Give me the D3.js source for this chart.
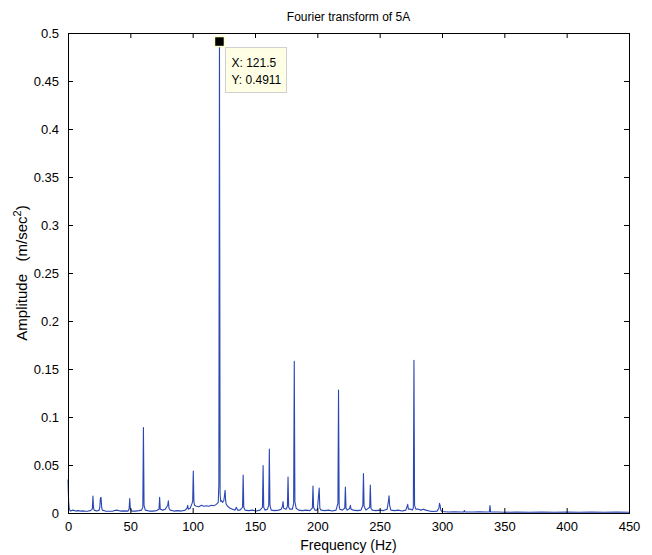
<!DOCTYPE html>
<html>
<head>
<meta charset="utf-8">
<script src="https://cdn.jsdelivr.net/npm/d3@7"></script>
<style>
  body { margin: 0; background: #fff; }
  text { font-family: "Liberation Sans", Arial, sans-serif; fill: #000; }
</style>
</head>
<body>
<div id="chart"></div>
<script>
/* CONSTANTS AND GLOBALS */
const width = 652,
  height = 555,
  margin = { top: 33, right: 23, bottom: 42, left: 68 };

// spectrum (Hz, m/sec^2)
const freqHz = [
  0, 0.5, 1, 2, 4, 6, 8, 10, 12, 14, 16, 18, 19.5, 20, 20.5, 21, 23, 25, 25.5, 26, 26.5, 27, 27.5,
  30, 33, 36, 39, 42, 45, 48, 49, 49.5, 50, 51, 54, 57, 59, 60, 60.5, 61, 62, 65, 68, 71, 73, 73.5, 74,
  76, 78, 79, 80, 80.5, 81, 82, 85, 88, 91, 94, 95.5, 96, 96.5, 98, 99.5, 100, 100.5, 101, 101.5,
  103, 105, 107, 109, 111, 113, 115, 117, 119, 120.5, 121, 121.5, 122, 122.5, 123, 124, 125, 125.5, 126, 126.5,
  127, 128, 130, 132, 134, 135, 136, 138, 140, 140.5, 141, 142, 145, 148, 151, 154, 156, 156.5, 157, 158,
  160, 161, 161.5, 162, 163, 166, 169, 171, 172, 172.5, 173, 175, 176, 176.5, 177, 178, 180, 181, 181.5, 182, 183,
  185, 188, 191, 194, 196, 196.5, 197, 198, 200, 201.5, 202, 203, 206, 209, 212, 215, 216.5, 217, 217.5, 218,
  220, 222, 222.5, 223, 224, 226, 226.5, 227, 229, 232, 235, 236.5, 237, 237.5, 239, 242, 242.5, 243, 244,
  247, 250, 253, 256, 257, 257.5, 258, 259, 262, 265, 268, 271, 272.5, 273, 275, 276, 277, 277.5, 278, 279,
  281, 283, 285, 287, 290, 293, 296, 297.5, 298, 298.5, 299, 300, 305, 310, 315, 317.5, 318, 318.5,
  325, 330, 335, 338, 338.5, 339, 345, 350, 360, 370, 380, 390, 400, 410, 420, 430, 440, 450
];
const amplitude = [
  0.035, 0.012, 0.004, 0.002, 0.003, 0.002, 0.0025, 0.002, 0.0022, 0.0018, 0.002, 0.0025, 0.004, 0.0177, 0.005, 0.003, 0.002, 0.003, 0.006, 0.0155, 0.0163, 0.006, 0.003,
  0.002, 0.0018, 0.002, 0.003, 0.002, 0.0022, 0.002, 0.004, 0.015, 0.005, 0.002, 0.002, 0.0025, 0.003, 0.006, 0.089, 0.008, 0.003, 0.002, 0.002, 0.0025, 0.004, 0.0163, 0.004,
  0.003, 0.004, 0.006, 0.008, 0.0128, 0.005, 0.003, 0.002, 0.0025, 0.002, 0.003, 0.005, 0.008, 0.004, 0.005, 0.01, 0.012, 0.0437, 0.012, 0.008,
  0.007, 0.0065, 0.008, 0.007, 0.0075, 0.007, 0.008, 0.0075, 0.009, 0.011, 0.03, 0.4911, 0.02, 0.012, 0.013, 0.011, 0.013, 0.018, 0.0236, 0.012,
  0.009, 0.007, 0.005, 0.004, 0.003, 0.006, 0.003, 0.003, 0.006, 0.0396, 0.006, 0.003, 0.0025, 0.003, 0.002, 0.003, 0.006, 0.0495, 0.006, 0.003,
  0.004, 0.008, 0.0665, 0.008, 0.003, 0.0025, 0.003, 0.004, 0.007, 0.012, 0.005, 0.004, 0.007, 0.0375, 0.006, 0.004, 0.004, 0.01, 0.158, 0.012, 0.005,
  0.003, 0.0025, 0.003, 0.0025, 0.005, 0.028, 0.006, 0.003, 0.003, 0.026, 0.005, 0.003, 0.0025, 0.003, 0.002, 0.003, 0.01, 0.128, 0.008, 0.004,
  0.003, 0.005, 0.027, 0.005, 0.003, 0.005, 0.008, 0.004, 0.003, 0.0025, 0.003, 0.008, 0.041, 0.007, 0.003, 0.006, 0.029, 0.005, 0.003,
  0.0025, 0.003, 0.0025, 0.004, 0.012, 0.018, 0.008, 0.003, 0.0025, 0.003, 0.002, 0.003, 0.009, 0.004, 0.004, 0.003, 0.005, 0.159, 0.008, 0.004,
  0.004, 0.003, 0.004, 0.003, 0.002, 0.0015, 0.002, 0.005, 0.01, 0.008, 0.003, 0.0015, 0.001, 0.0012, 0.001, 0.0012, 0.0025, 0.001,
  0.001, 0.0012, 0.001, 0.0012, 0.0077, 0.001, 0.001, 0.0008, 0.001, 0.0008, 0.001, 0.0008, 0.001, 0.0008, 0.001, 0.0008, 0.001, 0.0008
];

const xTicks = [0, 50, 100, 150, 200, 250, 300, 350, 400, 450];
const yTicks = [0, 0.05, 0.1, 0.15, 0.2, 0.25, 0.3, 0.35, 0.4, 0.45, 0.5];

// data cursor
const tipX = [121.5];
const tipY = [0.4911];

const data = freqHz.map((f, i) => ({ f: f, a: amplitude[i] }));

const svg = d3.select("#chart")
  .append("svg")
  .attr("width", width)
  .attr("height", height);

svg.append("rect").attr("width", width).attr("height", height).attr("fill", "#fff");

const xScale = d3.scaleLinear()
  .domain([0, 450])
  .range([margin.left, width - margin.right]);

const yScale = d3.scaleLinear()
  .domain([0, 0.5])
  .range([height - margin.bottom, margin.top]);

// line
const line = d3.line()
  .x(d => xScale(d.f))
  .y(d => yScale(d.a));

svg.append("path")
  .datum(data)
  .attr("fill", "none")
  .attr("stroke", "#2b47b3")
  .attr("stroke-width", 1.1)
  .attr("stroke-linejoin", "round")
  .attr("d", line);

// AXES - ticks point inward, like matlab
const fmtY = d => d === 0 ? "0" : String(+d.toFixed(2));

const xAxis = d3.axisBottom(xScale).tickValues(xTicks).tickSize(-5).tickPadding(9).tickFormat(d => d);
const yAxis = d3.axisLeft(yScale).tickValues(yTicks).tickSize(-5).tickPadding(9).tickFormat(fmtY);
const xTop = d3.axisTop(xScale).tickValues(xTicks).tickSize(-5).tickFormat("");
const yRight = d3.axisRight(yScale).tickValues(yTicks).tickSize(-5).tickFormat("");

function styleAxis(g) {
  g.select(".domain").remove();
  g.selectAll(".tick line").attr("stroke", "#000");
  g.selectAll(".tick text").style("font-size", "13px").attr("fill", "#000");
}

svg.append("g")
  .attr("transform", `translate(0,${height - margin.bottom})`)
  .call(xAxis).call(styleAxis);
svg.append("g")
  .attr("transform", `translate(${margin.left},0)`)
  .call(yAxis).call(styleAxis);
svg.append("g")
  .attr("transform", `translate(0,${margin.top})`)
  .call(xTop).call(styleAxis);
svg.append("g")
  .attr("transform", `translate(${width - margin.right},0)`)
  .call(yRight).call(styleAxis);

// box
svg.append("rect")
  .attr("x", margin.left + 0.5)
  .attr("y", margin.top + 0.5)
  .attr("width", width - margin.left - margin.right)
  .attr("height", height - margin.top - margin.bottom)
  .attr("fill", "none")
  .attr("stroke", "#000")
  .attr("stroke-width", 1);

// labels
svg.append("text")
  .attr("x", (margin.left + width - margin.right) / 2)
  .attr("y", 21)
  .attr("text-anchor", "middle")
  .style("font-size", "12px")
  .text("Fourier transform of 5A");

svg.append("text")
  .attr("x", (margin.left + width - margin.right) / 2)
  .attr("y", 550)
  .attr("text-anchor", "middle")
  .style("font-size", "14px")
  .text("Frequency (Hz)");

const yl = svg.append("text")
  .attr("transform", `translate(27,${(margin.top + height - margin.bottom) / 2}) rotate(-90)`)
  .attr("text-anchor", "middle")
  .style("font-size", "15px");
yl.append("tspan").text("Amplitude\u00a0\u00a0\u00a0(m/sec");
yl.append("tspan").attr("dy", -6).style("font-size", "11px").text("2");
yl.append("tspan").attr("dy", 6).text(")");

// data tip
const tx = xScale(tipX[0]), ty = yScale(tipY[0]);
svg.append("rect")
  .attr("x", tx - 5).attr("y", ty - 5)
  .attr("width", 10).attr("height", 10)
  .attr("fill", "#000")
  .attr("stroke", "#ffffc8")
  .attr("stroke-width", 1.5);

const box = svg.append("g").attr("transform", `translate(${tx + 6},${ty + 6})`);
box.append("rect")
  .attr("width", 61).attr("height", 45)
  .attr("fill", "#ffffe6")
  .attr("stroke", "#cfcfcf");
box.append("text").attr("x", 6).attr("y", 19).style("font-size", "12px").text("X: " + tipX[0]);
box.append("text").attr("x", 6).attr("y", 36).style("font-size", "12px").text("Y: " + tipY[0]);
</script>
</body>
</html>
